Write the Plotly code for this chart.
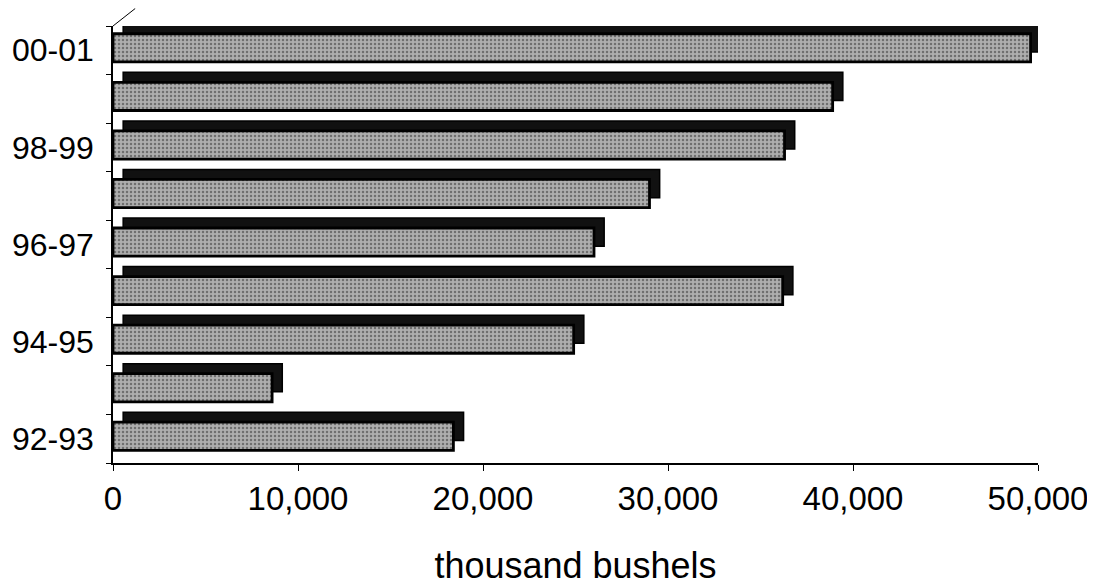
import plotly.graph_objects as go

# 시즌별 값 (thousand bushels)
seasons = ["92-93", "93-94", "94-95", "95-96", "96-97", "97-98", "98-99", "99-00", "00-01"]
values = [18400, 8600, 24900, 36200, 26000, 29000, 36300, 38900, 49600]
shown_labels = ["92-93", "", "94-95", "", "96-97", "", "98-99", "", "00-01"]
x_ticks = [0, 10000, 20000, 30000, 40000, 50000]

DEPTH = 550  # 3D 깊이 효과 (x 단위)
FAMILY = "Liberation Sans, Arial, sans-serif"

# 카테고리 경계 위치 (눈금 표시용)
boundaries = [i - 0.5 for i in range(len(seasons) + 1)]

fig = go.Figure()

# 뒤쪽 검은 면 (윗면 + 옆면 느낌)
fig.add_trace(go.Bar(
    y=seasons,
    x=values,
    base=DEPTH,
    orientation='h',
    width=0.58,
    offset=-0.035,
    marker=dict(color='#111111', line=dict(color='black', width=1.5)),
    hoverinfo='skip',
    showlegend=False
))

# 앞면 (회색, 점무늬)
fig.add_trace(go.Bar(
    y=seasons,
    x=values,
    orientation='h',
    width=0.58,
    offset=-0.24,
    marker=dict(
        color='#a4a4a4',
        line=dict(color='black', width=2.8),
        pattern=dict(shape='.', fgcolor='#6f6f6f', bgcolor='#aeaeae',
                     size=4, solidity=0.3, fillmode='replace')
    ),
    hovertemplate='%{y}: %{x:,.0f}<extra></extra>',
    showlegend=False
))

# 경계 눈금용 보조 축 (보이지 않는 trace)
fig.add_trace(go.Scatter(
    x=[None, None], y=[boundaries[0], boundaries[-1]],
    yaxis='y2', mode='markers', hoverinfo='skip', showlegend=False
))

fig.update_layout(
    width=1095,
    height=585,
    barmode='overlay',
    plot_bgcolor='white',
    paper_bgcolor='white',
    font=dict(family=FAMILY, size=33, color='black'),
    margin=dict(l=105, r=65, t=18, b=130),
    xaxis=dict(
        range=[0, 50000],
        tickvals=x_ticks,
        tickformat=',',
        ticks='outside',
        ticklen=6,
        tickcolor='black',
        showline=True,
        linecolor='black',
        linewidth=1.5,
        showgrid=False,
        zeroline=False,
        automargin=False,
        tickfont=dict(size=33),
        title=dict(text='thousand bushels', standoff=36,
                   font=dict(family=FAMILY, size=36, color='black')),
    ),
    yaxis=dict(
        type='category',
        categoryorder='array',
        categoryarray=seasons,
        tickvals=seasons,
        ticktext=shown_labels,
        ticks='',
        ticklabelstandoff=11,
        showline=True,
        linecolor='black',
        linewidth=1.5,
        showgrid=False,
        automargin=False,
        tickfont=dict(size=32),
        range=[-0.5, 8.5],
    ),
    yaxis2=dict(
        overlaying='y',
        side='left',
        range=[-0.5, 8.5],
        tickvals=boundaries,
        showticklabels=False,
        ticks='outside',
        ticklen=6,
        tickcolor='black',
        showline=False,
        showgrid=False,
        zeroline=False,
        automargin=False,
    ),
    shapes=[dict(
        type='line', xref='x', yref='paper',
        x0=0, y0=1, x1=1200, y1=1.04,
        line=dict(color='black', width=1)
    )],
)

fig.write_html("out.html")
